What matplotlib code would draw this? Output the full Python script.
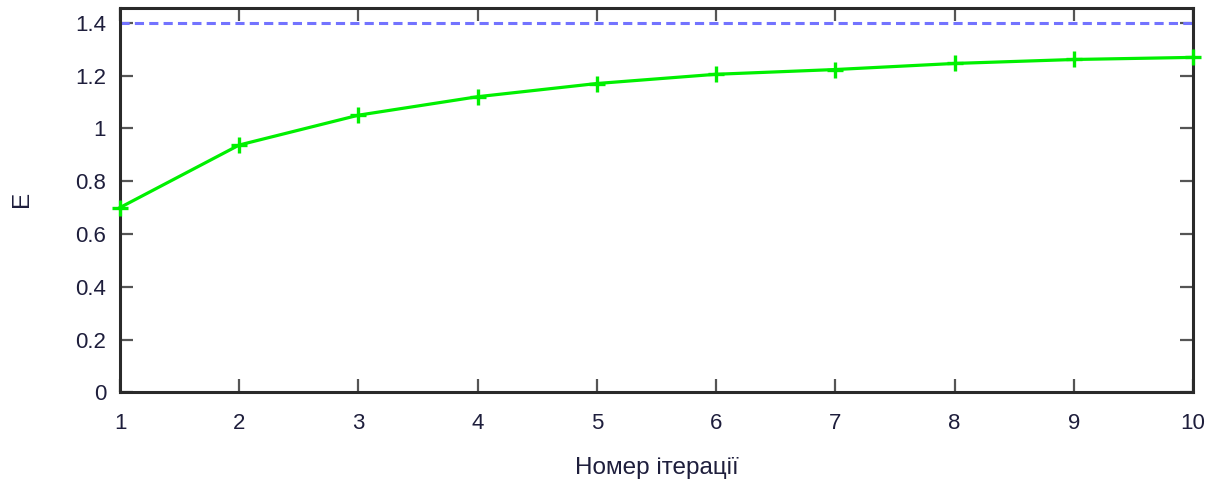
import matplotlib
matplotlib.use("Agg")
import matplotlib.pyplot as plt

iterations = [1, 2, 3, 4, 5, 6, 7, 8, 9, 10]
energy = [0.70, 0.937, 1.05, 1.12, 1.170, 1.205, 1.223, 1.246, 1.261, 1.269]
limit_value = 1.4
x_ticks = [1, 2, 3, 4, 5, 6, 7, 8, 9, 10]
y_ticks = [0, 0.2, 0.4, 0.6, 0.8, 1.0, 1.2, 1.4]
y_tick_labels = ["0", "0.2", "0.4", "0.6", "0.8", "1", "1.2", "1.4"]

plt.rcParams['font.family'] = ['Liberation Sans', 'DejaVu Sans']

fig = plt.figure(figsize=(12.18, 4.83), dpi=100)
ax = fig.add_axes([120/1218, (483-392.3)/483, (1193-120)/1218, (392.3-7.5)/483])

ax.plot([iterations[0], iterations[-1]], [limit_value, limit_value], color='#7373ff',
        lw=2.2, linestyle=(0, (3.0, 1.7)), zorder=2)
ax.plot(iterations, energy, color='#00f000', lw=2.3, marker='+', markersize=11,
        markeredgewidth=2.4, clip_on=False, zorder=3)

ax.set_xlim(1, 10)
ax.set_ylim(0, 1.458)
ax.set_xticks(x_ticks)
ax.set_yticks(y_ticks)
ax.set_yticklabels(y_tick_labels)

label_color = '#1e1e3c'
ax.tick_params(direction='in', length=9.5, width=1.6, color='#555555',
               top=True, right=True, labelsize=16, labelcolor=label_color)
ax.tick_params(axis='x', pad=15)
ax.tick_params(axis='y', pad=10)
for s in ax.spines.values():
    s.set_linewidth(2.2)
    s.set_color('#2a2a2a')

ax.set_xlabel('Номер ітерації', fontsize=17.5, color=label_color, labelpad=16.5)
ax.set_ylabel('E', fontsize=17.5, color=label_color)
ax.yaxis.set_label_coords(-0.081, 0.502)

fig.savefig('out.png', dpi=100)
